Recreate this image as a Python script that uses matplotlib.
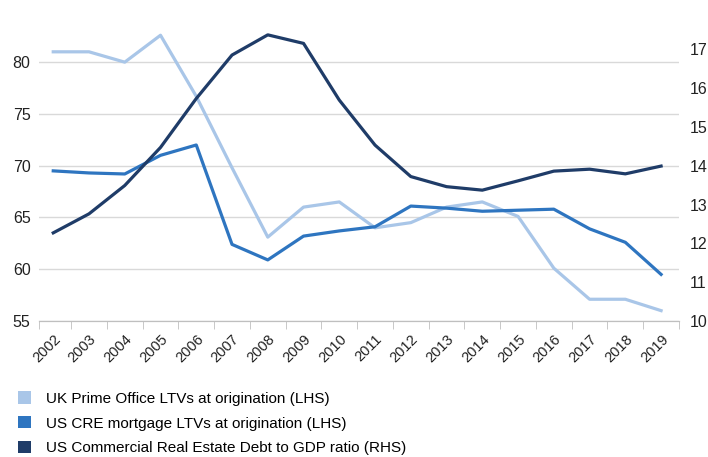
import matplotlib
matplotlib.use('Agg')
import matplotlib.pyplot as plt
from matplotlib.patches import Patch

plt.rcParams['font.family'] = ['Liberation Sans', 'DejaVu Sans']

years = [str(y) for y in range(2002, 2020)]

uk_prime_ltv = [81.0, 81.0, 80.0, 82.6, 76.7, 69.8, 63.1, 66.0, 66.5, 64.0,
                64.5, 66.0, 66.5, 65.1, 60.1, 57.1, 57.1, 56.0]
us_cre_ltv = [69.5, 69.3, 69.2, 71.0, 72.0, 62.4, 60.9, 63.2, 63.7, 64.1,
              66.1, 65.9, 65.6, 65.7, 65.8, 63.9, 62.6, 59.5]
us_debt_gdp = [12.27, 12.76, 13.49, 14.47, 15.73, 16.85, 17.37, 17.15, 15.69, 14.53,
               13.72, 13.46, 13.37, 13.61, 13.86, 13.91, 13.79, 13.99]

labels = ['UK Prime Office LTVs at origination (LHS)',
          'US CRE mortgage LTVs at origination (LHS)',
          'US Commercial Real Estate Debt to GDP ratio (RHS)']
colors = ['#a9c6e8', '#2e75c0', '#1f3c68']

fig = plt.figure(figsize=(7.08, 4.57), dpi=100)
ax = fig.add_axes([0.055, 0.2976, 0.904, 0.657])
ax2 = ax.twinx()

x = list(range(len(years)))
ax.plot(x, uk_prime_ltv, color=colors[0], lw=2.3, zorder=3)
ax.plot(x, us_cre_ltv, color=colors[1], lw=2.3, zorder=3)
ax2.plot(x, us_debt_gdp, color=colors[2], lw=2.3, zorder=3)

ax.set_xlim(-0.4, len(years) - 0.5)
ax.set_ylim(55, 84)
ax2.set_ylim(10, 10 + 29 * 4 / 15)
ax.set_yticks([55, 60, 65, 70, 75, 80])
ax2.set_yticks(range(10, 18))

ax.grid(axis='y', color='#d9d9d9', lw=1)
ax.set_axisbelow(True)

for a in (ax, ax2):
    for s in ('top', 'left', 'right'):
        a.spines[s].set_visible(False)
    a.spines['bottom'].set_color('#bfbfbf')
    a.tick_params(axis='y', length=0, labelsize=11.5, colors='#222222')

ax.tick_params(axis='y', pad=6)
ax2.tick_params(axis='y', pad=8)

ax.set_xticks(x)
ax.set_xticklabels(years, rotation=45, ha='right', rotation_mode='anchor', fontsize=10.5)
ax.set_xticks([i - 0.5 for i in range(1, len(years) + 1)] + [-0.4], minor=True)
ax.tick_params(axis='x', which='major', length=0, pad=8, colors='#222222')
ax.tick_params(axis='x', which='minor', length=6, color='#bfbfbf')

handles = [Patch(facecolor=c, edgecolor='none') for c in colors]
fig.legend(handles, labels, loc='upper left', bbox_to_anchor=(0.017, 0.157),
           frameon=False, fontsize=11, handlelength=0.85, handleheight=0.85,
           handletextpad=1.0, labelspacing=0.68, borderaxespad=0)

fig.savefig('out.png', dpi=100)
